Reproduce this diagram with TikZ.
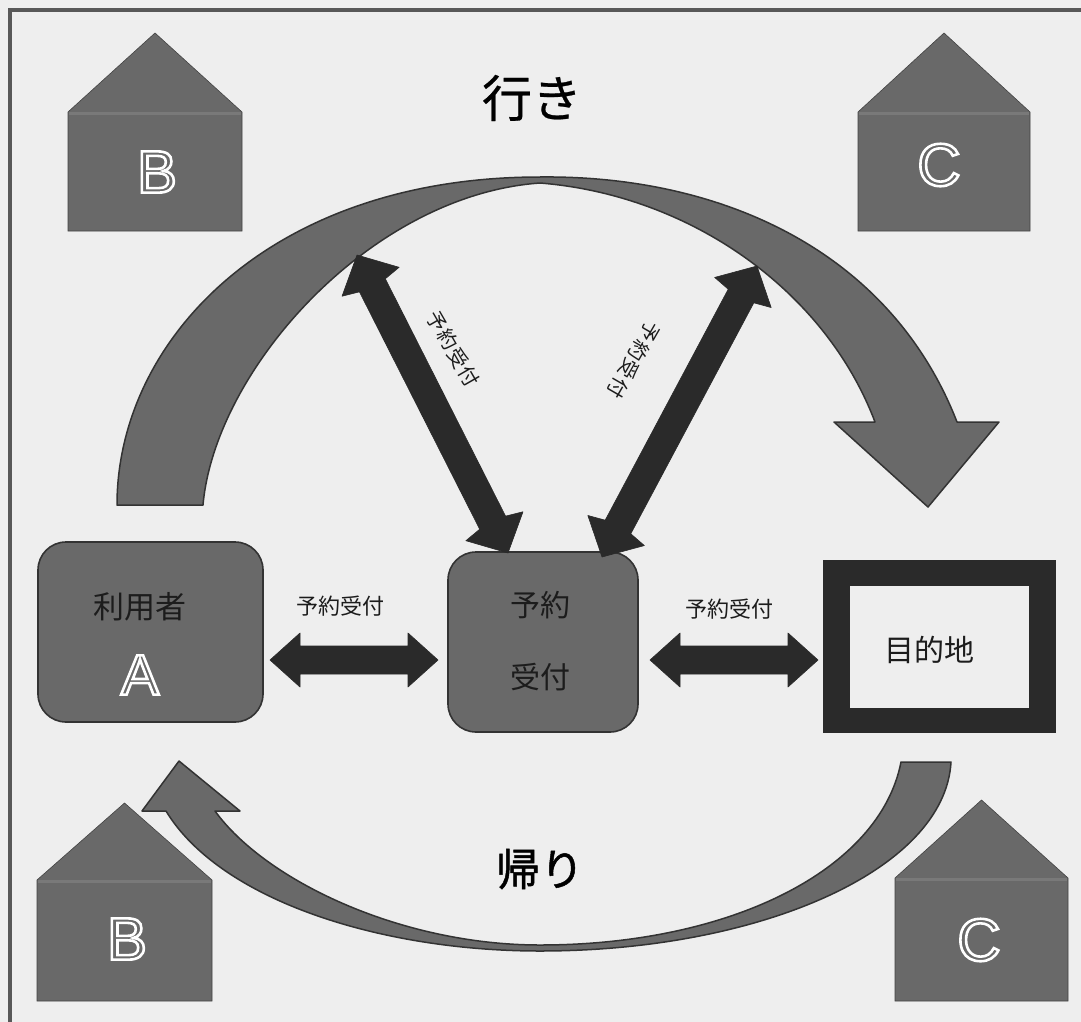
\documentclass[tikz,border=0pt]{standalone}
\usepackage{fontspec}
\setmainfont{Liberation Sans}
\newfontfamily\jp{Noto Sans CJK JP}
\newfontfamily\jpwide[LetterSpace=7]{Noto Sans CJK JP}
\newfontfamily\jph[FakeBold=0.5]{Noto Sans CJK JP}
\newfontfamily\jpb[FakeBold=1.1]{Noto Sans CJK JP}
\usetikzlibrary{calc}
\definecolor{paper}{HTML}{EEEEEE}
\definecolor{shapegray}{HTML}{696969}
\definecolor{rimgray}{HTML}{333333}
\definecolor{roofline}{HTML}{797979}
\definecolor{inkdark}{HTML}{2A2A2A}
\definecolor{labelink}{HTML}{1C1C1C}
\newcommand{\outlined}[1]{\special{pdf:code 1 Tr 2.6 w 1 1 1 RG}#1\special{pdf:code 0 Tr}}
\tikzset{
  house/.style={fill=shapegray,draw=rimgray!70!shapegray,line width=0.6pt,line join=miter},
  ridge/.style={draw=roofline,line width=2.5pt},
  letter/.style={text=white,inner sep=0pt,font=\fontsize{60}{60}\selectfont},
  bigarrow/.style={fill=shapegray,draw=rimgray,line width=1.5pt,line join=round},
  darrow/.style={fill=inkdark,draw=inkdark,line width=0.6pt,line join=round},
  roundbox/.style={fill=shapegray,draw=rimgray,line width=1.6pt,rounded corners=28pt},
  label/.style={text=labelink,font=\jp\fontsize{22}{22}\selectfont,inner sep=0pt},
  tiltlabel/.style={text=labelink,font=\jpwide\fontsize{20}{20}\selectfont,inner sep=0pt},
  boxlabel/.style={text=labelink,font=\jp\fontsize{30}{30}\selectfont,inner sep=0pt},
  title/.style={text=black,inner sep=0pt}
}
% #1 #2 ends, #3 barb distance, #4 barb half width, #5 notch distance, #6 shaft half width
\newcommand{\dblarrow}[6]{%
  \draw[darrow] (#1)
    -- ($(#1)!#3!(#2)!#4!90:(#2)$)
    -- ($(#1)!#5!(#2)!#6!90:(#2)$)
    -- ($(#2)!#5!(#1)!#6!-90:(#1)$)
    -- ($(#2)!#3!(#1)!#4!-90:(#1)$)
    -- (#2)
    -- ($(#2)!#3!(#1)!#4!90:(#1)$)
    -- ($(#2)!#5!(#1)!#6!90:(#1)$)
    -- ($(#1)!#5!(#2)!#6!-90:(#2)$)
    -- ($(#1)!#3!(#2)!#4!-90:(#2)$)
    -- cycle;}
% #1 left, #2 right, #3 top, #4 shoulder, #5 bottom
\newcommand{\housepic}[5]{%
  \draw[house] ({(#1+#2)/2},#3) -- (#2,#4) -- (#2,#5) -- (#1,#5) -- (#1,#4) -- cycle;
  \draw[ridge] (#1+1,#4+1.5) -- (#2-1,#4+1.5);}
\begin{document}
\begin{tikzpicture}[x=1pt,y=-1pt]
\useasboundingbox (0,0) rectangle (1081,1022);
\fill[paper] (0,0) rectangle (1081,1022);
\draw[rimgray!80!paper,line width=4pt] (10,1022) -- (10,10) -- (1081,10);

\housepic{68}{242}{33}{112}{231}
\housepic{858}{1030}{33}{112}{231}
\housepic{37}{212}{803}{880}{1001}
\housepic{895}{1068}{800}{878}{1001}
\node[letter] (hb1) at (157,172) {\outlined{B}};
\node[letter] (hc1) at (939,165) {\outlined{C}};
\node[letter] (hb2) at (127,939) {\outlined{B}};
\node[letter] (hc2) at (979,940) {\outlined{C}};

\node[title,font=\jph\fontsize{50}{50}\selectfont] (go) at (532,98) {行き};
\node[title,font=\jpb\fontsize{44}{44}\selectfont] (back) at (540,869) {帰り};

\draw[roundbox] (38,542) rectangle (263,722);
\node[boxlabel,font=\jp\fontsize{31}{31}\selectfont] (user) at (140,607) {利用者};
\node[letter,font=\fontsize{57}{57}\selectfont] (ua) at (140,675) {\outlined{A}};
\draw[roundbox] (448,552) rectangle (638,732);
\node[boxlabel] (res1) at (540,605) {予約};
\node[boxlabel] (res2) at (540,677) {受付};
\fill[inkdark] (823,560) rectangle (1056,733);
\fill[paper] (850,586) rectangle (1029,708);
\node[boxlabel] (dest) at (929,650) {目的地};

% large outbound arrow
\draw[bigarrow] (117,505)
  .. controls (117,340) and (270,177) .. (540,177)
  .. controls (720,175) and (890,250) .. (957,422)
  -- (999,422) -- (928,507) -- (834,422) -- (875,422)
  .. controls (825,290) and (690,195) .. (540,183)
  .. controls (370,195) and (215,370) .. (203,505) -- cycle;

% large return arrow
\draw[bigarrow] (951,762)
  .. controls (945,870) and (760,951) .. (540,951)
  .. controls (380,951) and (220,900) .. (166,811)
  -- (142,811) -- (179,761) -- (240,811) -- (215,811)
  .. controls (265,880) and (400,945) .. (540,945)
  .. controls (730,945) and (880,870) .. (901,762) -- cycle;

\coordinate (d1a) at (357,255);
\coordinate (d1b) at (508,553);
\coordinate (d2a) at (757,266);
\coordinate (d2b) at (602,557);
\dblarrow{d1a}{d1b}{30pt}{32pt}{34pt}{14.5pt}
\dblarrow{d2a}{d2b}{30pt}{32pt}{34pt}{14.5pt}

\coordinate (h1a) at (270,660);
\coordinate (h1b) at (438,660);
\coordinate (h2a) at (650,660);
\coordinate (h2b) at (818,660);
\dblarrow{h1a}{h1b}{30pt}{27pt}{30pt}{14pt}
\dblarrow{h2a}{h2b}{30pt}{27pt}{30pt}{14pt}

\node[label] (lh1) at (340,606) {予約受付};
\node[label] (lh2) at (729,609) {予約受付};
\node[tiltlabel,rotate=-60] (ld1) at (453,349) {予約受付};
\node[tiltlabel,rotate=-120] (ld2) at (634,360) {予約受付};
\end{tikzpicture}
\end{document}
